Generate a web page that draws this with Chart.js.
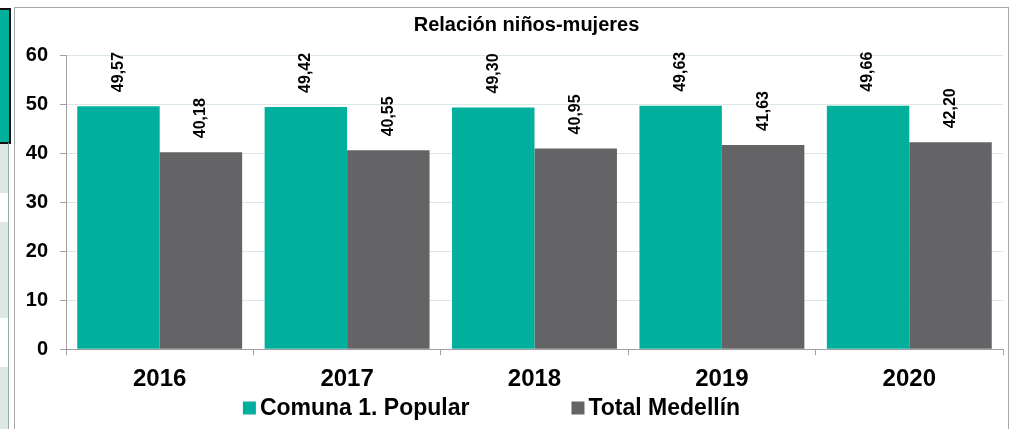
<!DOCTYPE html>
<html>
<head>
<meta charset="utf-8">
<script src="https://cdn.jsdelivr.net/npm/chart.js@4/dist/chart.umd.min.js"></script>
<style>
  html, body { margin: 0; padding: 0; background: #fff; }
  #wrap { position: relative; width: 1013px; height: 429px; overflow: hidden; font-family: "Liberation Sans", Arial, sans-serif; }
  #frame { position: absolute; left: 14px; top: 7px; width: 993px; height: 440px; border: 1px solid #a8a8a8; }
  .side { position: absolute; left: 0; width: 8px; background: #dde8e6; }
  #sidebox { position: absolute; left: -2px; top: 8px; width: 9px; height: 132px; background: #00b09c; border: 2px solid #111; }
  #sideline { position: absolute; left: 8px; top: 143px; width: 1px; height: 290px; background: #9aa; }
  canvas { position: absolute; left: 0; top: 0; }
</style>
</head>
<body>
<div id="wrap">
  <div class="side" style="top:143px;height:50px"></div>
  <div class="side" style="top:222px;height:96px"></div>
  <div class="side" style="top:367px;height:62px"></div>
  <div id="sidebox"></div>
  <div id="sideline"></div>
  <div id="frame"></div>
  <canvas id="chart" width="1013" height="429"></canvas>
</div>
<script>
const title = 'Relación niños-mujeres';
const years = ['2016', '2017', '2018', '2019', '2020'];
const comuna = [49.57, 49.42, 49.30, 49.63, 49.66];
const medellin = [40.18, 40.55, 40.95, 41.63, 42.20];
const yTicks = [0, 10, 20, 30, 40, 50, 60];

const FONT = '"Liberation Sans", Arial, sans-serif';
const TEAL = '#00b09c';
const GRAY = '#646466';

// values printed vertically above every bar
const barLabels = {
  id: 'barLabels',
  afterDatasetsDraw(chart) {
    const ctx = chart.ctx;
    ctx.save();
    ctx.font = 'bold 16px ' + FONT;
    ctx.fillStyle = '#000';
    ctx.textAlign = 'left';
    ctx.textBaseline = 'middle';
    chart.data.datasets.forEach((ds, i) => {
      chart.getDatasetMeta(i).data.forEach((bar, j) => {
        ctx.save();
        ctx.translate(bar.x, bar.y - 14);
        ctx.rotate(-Math.PI / 2);
        ctx.fillText(ds.data[j].toFixed(2).replace('.', ','), 0, 0);
        ctx.restore();
      });
    });
    ctx.restore();
  }
};

// title over the plot and a legend with the wide gap between entries
const decor = {
  id: 'decor',
  afterDraw(chart) {
    const ctx = chart.ctx;
    const area = chart.chartArea;
    ctx.save();
    ctx.fillStyle = '#000';
    ctx.font = 'bold 20px ' + FONT;
    ctx.textAlign = 'center';
    ctx.textBaseline = 'middle';
    ctx.fillText(title, (area.left + area.right) / 2 - 8, 25);

    const gap = 102, box = 13, space = 4;
    ctx.font = 'bold 23px ' + FONT;
    ctx.textAlign = 'left';
    const items = chart.data.datasets.map(ds => ({
      text: ds.label, color: ds.backgroundColor, w: ctx.measureText(ds.label).width
    }));
    const total = items.reduce((s, it) => s + box + space + it.w, 0) + gap * (items.length - 1);
    let x = chart.width / 2 - total / 2 - 15;
    const y = 408;
    items.forEach(it => {
      ctx.fillStyle = it.color;
      ctx.fillRect(x, y - box / 2, box, box);
      x += box + space;
      ctx.fillStyle = '#000';
      ctx.fillText(it.text, x, y + 1);
      x += it.w + gap;
    });
    ctx.restore();
  }
};

new Chart(document.getElementById('chart'), {
  type: 'bar',
  data: {
    labels: years,
    datasets: [
      { label: 'Comuna 1. Popular', data: comuna, backgroundColor: TEAL },
      { label: 'Total Medellín', data: medellin, backgroundColor: GRAY }
    ]
  },
  options: {
    responsive: false,
    animation: false,
    layout: { padding: { left: 14, right: 10, top: 55, bottom: 25 } },
    datasets: { bar: { categoryPercentage: 0.88, barPercentage: 1.0 } },
    plugins: {
      legend: { display: false },
      tooltip: { enabled: false },
      title: { display: false }
    },
    scales: {
      x: {
        grid: { display: true, drawOnChartArea: false, tickLength: 6, tickColor: '#a0a0a0' },
        border: { color: '#a0a0a0' },
        ticks: { color: '#000', padding: 10, font: { family: FONT, size: 24, weight: 'bold' } }
      },
      y: {
        min: 0,
        max: 60,
        afterBuildTicks(scale) { scale.ticks = yTicks.map(v => ({ value: v })); },
        afterFit(scale) { scale.width = 52; },
        grid: { color: '#dbe8e5', tickLength: 6, tickColor: '#a0a0a0' },
        border: { color: '#a0a0a0' },
        ticks: { color: '#000', padding: 12, font: { family: FONT, size: 20, weight: 'bold' } }
      }
    }
  },
  plugins: [barLabels, decor]
});
</script>
</body>
</html>
